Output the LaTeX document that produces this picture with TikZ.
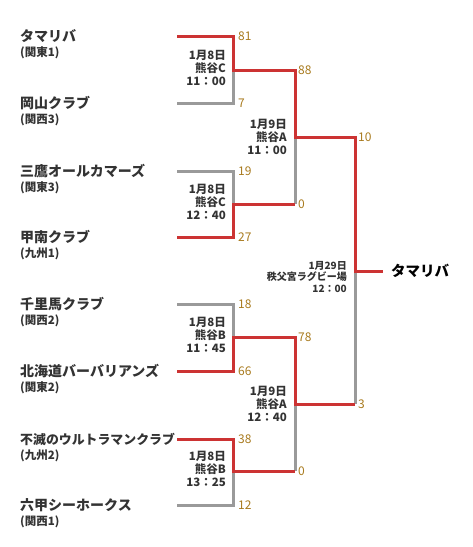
\documentclass[tikz,border=0pt]{standalone}
\usepackage{fontspec}
\setmainfont{Noto Sans CJK JP}
\definecolor{winc}{HTML}{CC3333}
\definecolor{losec}{HTML}{9A9A9A}
\definecolor{scorec}{HTML}{A87A1E}
\definecolor{txtc}{HTML}{333333}
\begin{document}
\begin{tikzpicture}[x=1pt,y=-1pt,
  winline/.style={draw=winc,line width=3pt,line join=miter},
  loseline/.style={draw=losec,line width=3pt,line join=miter},
  team/.style={anchor=west,inner sep=0pt,font=\fontsize{14}{15}\selectfont\bfseries,text=txtc},
  region/.style={anchor=west,inner sep=0pt,font=\fontsize{11.5}{12}\selectfont\bfseries,text=txtc},
  score/.style={anchor=west,inner sep=0pt,font=\fontsize{12}{13}\selectfont,text=scorec},
  info/.style={anchor=east,inner sep=0pt,align=right,font=\fontsize{11.5}{13}\selectfont\bfseries,text=txtc},
  champ/.style={anchor=west,inner sep=0pt,font=\fontsize{14.5}{15}\selectfont\bfseries,text=black}]
\useasboundingbox (0,0) rectangle (472,547);
% coordinates
\foreach \i/\y in {1/36,2/103,3/171,4/237,5/304,6/371,7/439,8/505}{
  \coordinate (s\i) at (177,\y);
  \coordinate (e\i) at (233,\y);
}
\foreach \i/\y in {1/70,2/204,3/337,4/471}{
  \coordinate (m\i) at (233,\y);
  \coordinate (n\i) at (295,\y);
}
\foreach \i/\y in {1/137,2/404}{
  \coordinate (p\i) at (295,\y);
  \coordinate (q\i) at (355,\y);
}
\coordinate (f) at (355,271);
\coordinate (fe) at (383,271);
% team names
\foreach \i/\name/\reg in {1/タマリバ/(関東1),2/岡山クラブ/(関西3),3/三鷹オールカマーズ/(関東3),4/甲南クラブ/(九州1),5/千里馬クラブ/(関西2),6/北海道バーバリアンズ/(関東2),8/六甲シーホークス/(関西1)}{
  \node[team] (t\i) at ([yshift=0pt]s\i -| 20,0) {\name};
  \node[region] (r\i) at ([yshift=-17pt]s\i -| 20,0) {\reg};
}
\node[team,font=\fontsize{12.9}{14}\selectfont\bfseries] (t7) at ([yshift=0pt]s7 -| 20,0) {不滅のウルトラマンクラブ};
\node[region] (r7) at ([yshift=-17pt]s7 -| 20,0) {(九州2)};
% losing lines
\draw[loseline] (s2) -- (e2) -- (m1);
\draw[loseline] (s3) -- (e3) -- (m2);
\draw[loseline] (s5) -- (e5) -- (m3);
\draw[loseline] (s8) -- (e8) -- (m4);
\draw[loseline] (n2) -- (p1);
\draw[loseline] (n4) -- (p2);
\draw[loseline] (q2) -- (f);
% winning lines
\draw[winline] (s1) -- (e1) -- (m1) -- (n1) -- (p1) -- (q1) -- (f) -- (fe);
\draw[winline] (s4) -- (e4) -- (m2) -- (n2);
\draw[winline] (s6) -- (e6) -- (m3) -- (n3) -- (p2) -- (q2);
\draw[winline] (s7) -- (e7) -- (m4) -- (n4);
% scores
\foreach \i/\v in {1/81,2/7,3/19,4/27,5/18,6/66,7/38,8/12}{
  \node[score] (sc\i) at ([xshift=5pt]e\i) {\v};
}
\foreach \i/\v in {1/88,2/0,3/78,4/0}{
  \node[score] (sm\i) at ([xshift=3pt]n\i) {\v};
}
\node[score] (sq1) at ([xshift=3pt]q1) {10};
\node[score] (sq2) at ([xshift=3pt]q2) {3};
% match info
\node[info] (i1) at (226,68) {1月8日\\熊谷C\\11：00};
\node[info] (i2) at (226,202) {1月8日\\熊谷C\\12：40};
\node[info] (i3) at (226,335) {1月8日\\熊谷B\\11：45};
\node[info] (i4) at (226,469) {1月8日\\熊谷B\\13：25};
\node[info] (i5) at (287,137) {1月9日\\熊谷A\\11：00};
\node[info] (i6) at (287,404) {1月9日\\熊谷A\\12：40};
\node[info,font=\fontsize{10}{11.8}\selectfont\bfseries] (i7) at (347,277) {1月29日\\秩父宮ラグビー場\\12：00};
% champion
\node[champ] (ch) at ([xshift=8pt]fe) {タマリバ};
\end{tikzpicture}
\end{document}
